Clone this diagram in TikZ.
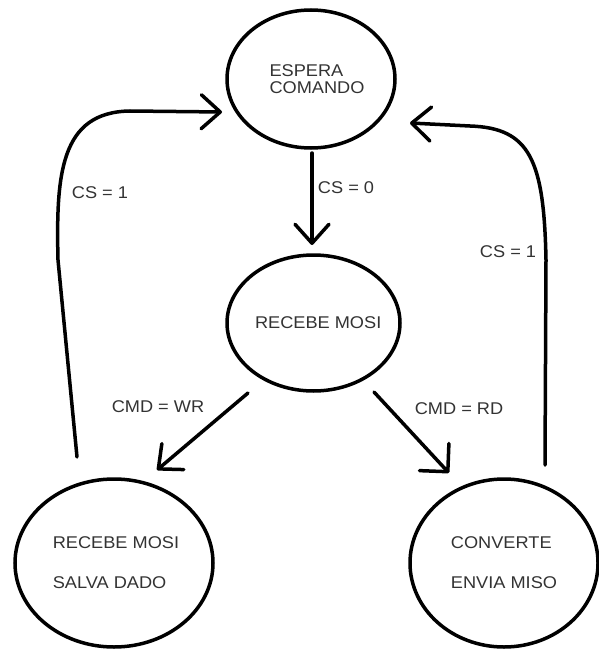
\documentclass[tikz,border=0pt]{standalone}
\usepackage{fontspec}
\setmainfont{Liberation Sans}[FakeStretch=1.07]
\usetikzlibrary{arrows.meta,calc,shapes.geometric}

\begin{document}
\begin{tikzpicture}[x=1pt,y=-1pt,
  txt/.style={font=\fontsize{17}{17}\selectfont, text=black!80},
  state/.style={draw, ellipse, line width=3.5pt, inner sep=0pt, align=left, txt},
  arr/.style={line width=3.5pt, line cap=round, line join=round,
              -{Straight Barb[length=19pt,width=34pt,line cap=round,line join=round]}},
  widearr/.style={arr, -{Straight Barb[length=20pt,width=40pt,line cap=round,line join=round]}},
  lbl/.style={txt, inner sep=0pt}]
\useasboundingbox (0,0) rectangle (599,650);

% states (text blocks sit a little right of the ellipse centres)
\node[state, minimum width=168pt, minimum height=138pt] (top) at (311,79)
  {\hspace*{12pt}ESPERA\\\hspace*{12pt}COMANDO};
\node[state, minimum width=173pt, minimum height=136pt] (mid) at (313.5,323)
  {\makebox[117pt][l]{RECEBE MOSI}};
\node[state, minimum width=198pt, minimum height=168pt] (bl) at (114,563)
  {\hspace*{4pt}RECEBE MOSI\\[23pt]\hspace*{4pt}SALVA DADO};
\node[state, minimum width=188pt, minimum height=168pt] (br) at (504,563)
  {CONVERTE\\[23pt]ENVIA MISO};

% transitions
\draw[arr] ($(top)+(1,74)$) -- ($(mid)+(-1.5,-78)$);
\draw[arr] ($(mid)+(-65.5,70)$) -- ($(bl)+(43,-93)$);
\draw[widearr] ($(mid)+(60.5,69)$) -- ($(br)+(-55,-90)$);
\draw[arr] ($(bl)+(-37,-106)$) -- (58,260)
  .. controls (56,175) and (60,112) .. (130,111) -- ($(top)+(-89,33)$);
\draw[arr] ($(br)+(41,-98)$) -- (546,260)
  .. controls (544,160) and (530,128) .. (470,126) -- ($(top)+(99,44)$);

% transition labels
\node[lbl] (l0) at (346,188) {CS = 0};
\node[lbl] (l1) at (100,193) {CS = 1};
\node[lbl] (l2) at (508,252) {CS = 1};
\node[lbl] (l3) at (158,407) {CMD = WR};
\node[lbl] (l4) at (459,409) {CMD = RD};
\end{tikzpicture}
\end{document}
